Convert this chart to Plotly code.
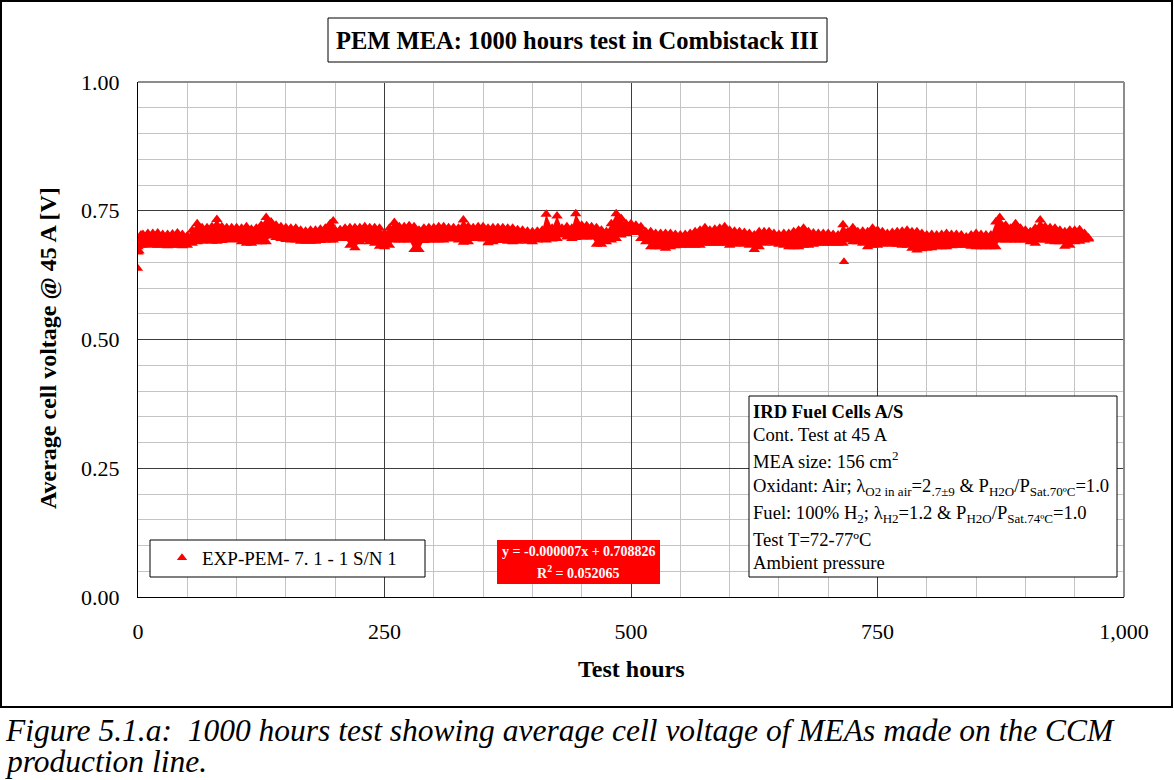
import plotly.graph_objects as go

# ---------------- data ----------------
hours = [0, 1, 3, 5, 10, 15, 20, 25, 30, 35, 40, 45, 50, 55, 60, 65, 70, 75, 80, 85,
         90, 95, 100, 105, 110, 115, 120, 125, 130, 135, 140, 145, 150, 155, 160, 165,
         170, 175, 180, 185, 190, 195, 198, 200, 205, 210, 215, 220, 225, 230, 235, 240,
         245, 250, 255, 260, 265, 270, 275, 280, 285, 290, 295, 300, 305, 310, 315, 320,
         325, 330, 335, 340, 345, 350, 355, 360, 365, 370, 375, 380, 385, 390, 395, 400,
         405, 410, 414, 420, 425, 430, 435, 440, 444, 450, 455, 460, 465, 470, 475, 480,
         485, 490, 495, 500, 505, 510, 515, 520, 525, 530, 535, 540, 545, 550, 555, 560,
         565, 570, 575, 580, 585, 590, 595, 600, 605, 610, 615, 620, 625, 630, 635, 640,
         645, 650, 655, 660, 665, 670, 675, 680, 685, 690, 695, 700, 705, 710, 715, 720,
         725, 730, 735, 740, 745, 750, 755, 760, 765, 770, 775, 780, 785, 790, 795, 800,
         805, 810, 815, 820, 825, 830, 835, 840, 845, 850, 855, 860, 865, 870, 874, 880,
         885, 890, 895, 900, 905, 910, 915, 920, 925, 930, 935, 940, 945, 950, 955, 960, 964]

voltage_high = [0.680, 0.693, 0.703, 0.704, 0.706, 0.706, 0.707, 0.704, 0.704, 0.705, 0.707, 0.704, 0.701, 0.712, 0.725, 0.717, 0.717, 0.719, 0.733, 0.719,
                0.717, 0.717, 0.717, 0.716, 0.719, 0.714, 0.716, 0.722, 0.737, 0.728, 0.722, 0.719, 0.717, 0.716, 0.716, 0.712,
                0.710, 0.712, 0.712, 0.714, 0.716, 0.725, 0.730, 0.712, 0.713, 0.716, 0.717, 0.717, 0.717, 0.719, 0.717, 0.717,
                0.716, 0.706, 0.716, 0.727, 0.719, 0.719, 0.721, 0.719, 0.712, 0.716, 0.717, 0.717, 0.719, 0.719, 0.717, 0.717,
                0.716, 0.732, 0.719, 0.717, 0.719, 0.719, 0.716, 0.717, 0.717, 0.717, 0.716, 0.716, 0.713, 0.712, 0.710, 0.709,
                0.710, 0.712, 0.743, 0.716, 0.740, 0.716, 0.719, 0.716, 0.744, 0.722, 0.721, 0.719, 0.717, 0.712, 0.709, 0.725,
                0.744, 0.735, 0.725, 0.725, 0.722, 0.719, 0.709, 0.709, 0.706, 0.706, 0.706, 0.706, 0.704, 0.703, 0.704, 0.706,
                0.709, 0.712, 0.717, 0.712, 0.714, 0.716, 0.719, 0.712, 0.710, 0.709, 0.708, 0.706, 0.703, 0.709, 0.709, 0.709,
                0.706, 0.704, 0.706, 0.706, 0.709, 0.712, 0.716, 0.709, 0.707, 0.706, 0.706, 0.706, 0.704, 0.703, 0.723, 0.709,
                0.717, 0.709, 0.710, 0.709, 0.716, 0.712, 0.709, 0.706, 0.708, 0.709, 0.710, 0.712, 0.709, 0.709, 0.706, 0.703,
                0.704, 0.703, 0.704, 0.706, 0.704, 0.704, 0.703, 0.699, 0.703, 0.706, 0.704, 0.703, 0.703, 0.728, 0.737, 0.722,
                0.716, 0.725, 0.716, 0.712, 0.709, 0.716, 0.732, 0.719, 0.717, 0.716, 0.712, 0.709, 0.712, 0.712, 0.713, 0.706, 0.697]

voltage_low = [0.670, 0.672, 0.683, 0.683, 0.685, 0.683, 0.683, 0.683, 0.682, 0.683, 0.683, 0.682, 0.683, 0.687, 0.690, 0.691, 0.692, 0.691, 0.691, 0.692,
               0.694, 0.693, 0.694, 0.690, 0.687, 0.687, 0.690, 0.690, 0.690, 0.701, 0.698, 0.696, 0.694, 0.693, 0.693, 0.691,
               0.691, 0.691, 0.691, 0.692, 0.693, 0.693, 0.693, 0.698, 0.696, 0.696, 0.683, 0.678, 0.690, 0.693, 0.690, 0.687,
               0.681, 0.680, 0.683, 0.693, 0.693, 0.693, 0.693, 0.675, 0.675, 0.692, 0.693, 0.693, 0.693, 0.693, 0.695, 0.696,
               0.693, 0.689, 0.690, 0.696, 0.696, 0.695, 0.688, 0.690, 0.692, 0.693, 0.691, 0.690, 0.691, 0.693, 0.691, 0.690,
               0.693, 0.696, 0.693, 0.695, 0.696, 0.703, 0.699, 0.696, 0.698, 0.699, 0.699, 0.699, 0.685, 0.685, 0.690, 0.693,
               0.696, 0.703, 0.706, 0.709, 0.708, 0.696, 0.690, 0.680, 0.680, 0.680, 0.677, 0.680, 0.682, 0.683, 0.683, 0.683,
               0.683, 0.683, 0.687, 0.687, 0.687, 0.687, 0.687, 0.683, 0.685, 0.687, 0.685, 0.683, 0.675, 0.680, 0.687, 0.690,
               0.687, 0.685, 0.683, 0.680, 0.680, 0.680, 0.683, 0.683, 0.685, 0.687, 0.687, 0.687, 0.687, 0.687, 0.687, 0.693,
               0.690, 0.690, 0.687, 0.680, 0.683, 0.683, 0.685, 0.687, 0.685, 0.685, 0.683, 0.683, 0.677, 0.674, 0.676, 0.677,
               0.678, 0.680, 0.680, 0.680, 0.682, 0.683, 0.683, 0.683, 0.681, 0.680, 0.680, 0.680, 0.680, 0.680, 0.693, 0.693,
               0.693, 0.693, 0.693, 0.693, 0.690, 0.687, 0.693, 0.693, 0.691, 0.690, 0.690, 0.681, 0.683, 0.690, 0.691, 0.693, 0.695]

outlier_hours = [0, 716]
outlier_voltage = [0.638, 0.651]

series_name = "EXP-PEM- 7. 1 - 1 S/N 1"
x_ticks = [0, 250, 500, 750, 1000]
y_ticks = [0.0, 0.25, 0.5, 0.75, 1.0]

title_text = "PEM MEA: 1000 hours test in Combistack III"
x_title = "Test hours"
y_title = "Average cell voltage @ 45 A [V]"
trend_lines = ["y = -0.000007x + 0.708826", "R<sup>2</sup> = 0.052065"]
info_lines = [
    "<b>IRD Fuel Cells A/S</b>",
    "Cont. Test at 45 A",
    "MEA size: 156 cm<sup>2</sup>",
    "Oxidant: Air; λ<sub>O2 in air</sub>=2<sub>.7±9</sub> &amp; P<sub>H2O</sub>/P<sub>Sat.70ºC</sub>=1.0",
    "Fuel: 100% H<sub>2</sub>; λ<sub>H2</sub>=1.2 &amp; P<sub>H2O</sub>/P<sub>Sat.74ºC</sub>=1.0",
    "Test T=72-77ºC",
    "Ambient pressure",
]
caption_lines = [
    "Figure 5.1.a:\u00a0 1000 hours test showing average cell voltage of MEAs made on the CCM",
    "production line.",
]

# ---------------- layout helpers ----------------
W, H = 1174, 780
L, R, T, B = 138, 50, 82, 183
PW, PH = W - L - R, H - T - B
FONT = "Liberation Serif"
RED = "#ff0000"


def X(px):
    return (px - L) / PW


def Y(py):
    return (H - B - py) / PH


fig = go.Figure()

fig.add_trace(go.Scatter(
    x=hours, y=voltage_low, mode="lines+markers",
    line=dict(width=0, color=RED),
    marker=dict(symbol="triangle-up", size=10, color=RED),
    showlegend=False, hoverinfo="x+y"))
fig.add_trace(go.Scatter(
    x=hours, y=voltage_high, mode="lines+markers", fill="tonexty", fillcolor=RED,
    line=dict(width=0, color=RED),
    marker=dict(symbol="triangle-up", size=10, color=RED),
    showlegend=False, hoverinfo="x+y"))
fig.add_trace(go.Scatter(
    x=outlier_hours, y=outlier_voltage, mode="markers", name=series_name,
    marker=dict(symbol="triangle-up", size=9, color=RED),
    showlegend=True))

axis_common = dict(
    showline=True, linecolor="black", linewidth=1, mirror=False,
    ticks="", zeroline=False, showgrid=True, gridcolor="#3c3c3c", gridwidth=1,
    tickfont=dict(family=FONT, size=22, color="black"),
)
fig.update_xaxes(range=[0, 1000], tickvals=x_ticks, tickformat=",d",
                 minor=dict(dtick=50, showgrid=True, gridcolor="#c4c4c4", gridwidth=1),
                 ticklabelstandoff=15, **axis_common)
fig.update_yaxes(range=[0, 1], tickvals=y_ticks, tickformat=".2f",
                 minor=dict(dtick=0.05, showgrid=True, gridcolor="#c4c4c4", gridwidth=1),
                 ticklabelstandoff=13, **axis_common)

shapes = []
# outer frame
shapes.append(dict(type="rect", xref="paper", yref="paper", x0=X(1), x1=X(1172), y0=Y(1), y1=Y(707),
                   line=dict(color="black", width=2), fillcolor="rgba(0,0,0,0)", layer="above"))
# top / right plot border (gray)
shapes.append(dict(type="line", xref="paper", yref="paper", x0=0, x1=1, y0=1, y1=1,
                   line=dict(color="#8c8c8c", width=2), layer="above"))
shapes.append(dict(type="line", xref="paper", yref="paper", x0=1, x1=1, y0=0, y1=1,
                   line=dict(color="#8c8c8c", width=2), layer="above"))
# title box
shapes.append(dict(type="rect", xref="paper", yref="paper", x0=X(328), x1=X(827), y0=Y(18), y1=Y(62),
                   line=dict(color="black", width=1), fillcolor="white", layer="above"))
# legend box
shapes.append(dict(type="rect", xref="paper", yref="paper", x0=X(150), x1=X(425), y0=Y(540), y1=Y(577),
                   line=dict(color="black", width=1), fillcolor="white", layer="above"))
# trendline box
shapes.append(dict(type="rect", xref="paper", yref="paper", x0=X(497), x1=X(660), y0=Y(540), y1=Y(584),
                   line=dict(width=0), fillcolor=RED, layer="above"))
# info box
shapes.append(dict(type="rect", xref="paper", yref="paper", x0=X(749), x1=X(1117), y0=Y(396), y1=Y(577),
                   line=dict(color="black", width=1), fillcolor="white", layer="above"))

ann = []
ann.append(dict(text=f"<b>{title_text}</b>", x=X(577.5), y=Y(40), xref="paper", yref="paper",
                xanchor="center", yanchor="middle", showarrow=False,
                font=dict(family=FONT, size=24.5, color="black")))
ann.append(dict(text=f"<b>{x_title}</b>", x=X(631), y=Y(669), xref="paper", yref="paper",
                xanchor="center", yanchor="middle", showarrow=False,
                font=dict(family=FONT, size=24, color="black")))
ann.append(dict(text=f"<b>{y_title}</b>", x=X(48), y=Y(348), xref="paper", yref="paper",
                xanchor="center", yanchor="middle", showarrow=False, textangle=-90,
                font=dict(family=FONT, size=24, color="black")))
for txt, py in zip(trend_lines, [551, 572]):
    ann.append(dict(text=f"<b>{txt}</b>", x=X(578.5), y=Y(py), xref="paper", yref="paper",
                    xanchor="center", yanchor="middle", showarrow=False,
                    font=dict(family=FONT, size=14, color="white")))
for txt, py in zip(info_lines, [411, 434, 460, 487, 514, 539, 562]):
    ann.append(dict(text=txt, x=X(751), y=Y(py), xref="paper", yref="paper",
                    xanchor="left", yanchor="middle", showarrow=False,
                    font=dict(family=FONT, size=18.6, color="black")))
for txt, py in zip(caption_lines, [730, 761]):
    ann.append(dict(text=txt, x=X(3), y=Y(py), xref="paper", yref="paper",
                    xanchor="left", yanchor="middle", showarrow=False,
                    font=dict(family=FONT, size=31.5, color="black", style="italic")))

fig.update_layout(
    width=W, height=H, margin=dict(l=L, r=R, t=T, b=B, autoexpand=False),
    paper_bgcolor="white", plot_bgcolor="white",
    shapes=shapes, annotations=ann,
    legend=dict(x=X(282), y=Y(558), xanchor="center", yanchor="middle",
                bgcolor="rgba(0,0,0,0)", borderwidth=0,
                font=dict(family=FONT, size=19, color="black")),
    font=dict(family=FONT),
)

fig.write_html("out.html", config={"displayModeBar": False},
               post_script="document.body.style.margin='0';document.body.style.overflow='hidden';")
